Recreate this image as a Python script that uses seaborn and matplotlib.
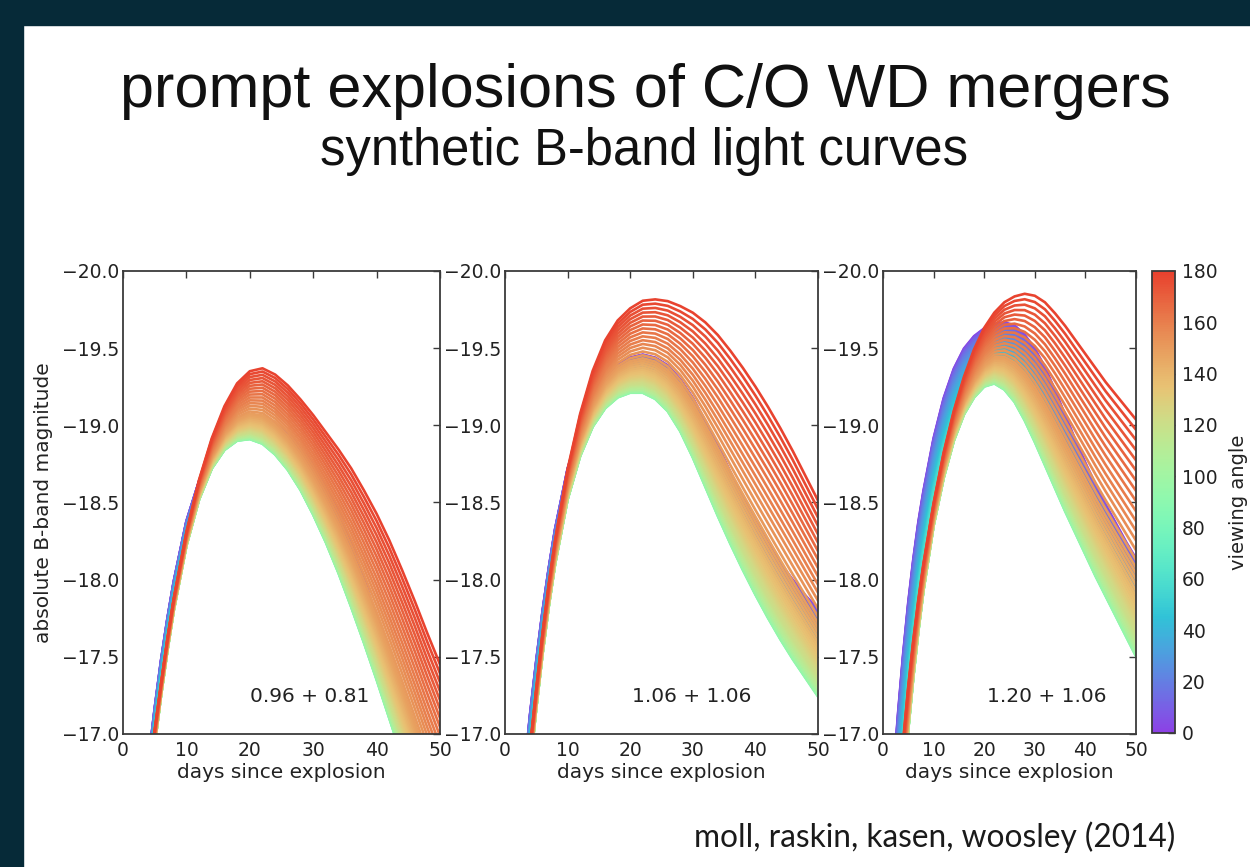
import numpy as np
import pandas as pd
import matplotlib
matplotlib.use("Agg")
import matplotlib.pyplot as plt
import seaborn as sns
from matplotlib.colors import ListedColormap, Normalize
from matplotlib.cm import ScalarMappable
from matplotlib.patches import Rectangle
from matplotlib.ticker import FuncFormatter

# ---------------------------------------------------------------------------
# Light-curve data (absolute B-band magnitude vs. days since explosion)
# Three reference viewing angles per model: 0 deg, 90 deg and 180 deg.
# ---------------------------------------------------------------------------
DAYS = [2, 3, 4, 5, 6, 7, 8, 10, 12, 14, 16, 18, 20, 22, 24, 26, 28, 30,
        32, 34, 36, 38, 40, 42, 44, 46, 48, 50]

# model 0.96 + 0.81 Msun
M1_ANGLE_0 = [-16.00, -16.42, -16.82, -17.17, -17.48, -17.75, -17.99, -18.38,
              -18.64, -18.83, -18.95, -19.01, -19.04, -19.04, -19.01, -18.95,
              -18.86, -18.75, -18.61, -18.44, -18.24, -18.01, -17.76, -17.49,
              -17.21, -16.93, -16.65, -16.37]
M1_ANGLE_90 = [-15.80, -16.20, -16.58, -16.93, -17.25, -17.54, -17.80, -18.22,
               -18.52, -18.72, -18.84, -18.90, -18.91, -18.88, -18.81, -18.71,
               -18.58, -18.42, -18.24, -18.04, -17.82, -17.59, -17.35, -17.10,
               -16.85, -16.60, -16.35, -16.10]
M1_ANGLE_180 = [-15.90, -16.35, -16.72, -17.03, -17.33, -17.62, -17.88, -18.31,
                -18.65, -18.92, -19.13, -19.28, -19.36, -19.38, -19.34, -19.27,
                -19.18, -19.08, -18.97, -18.86, -18.74, -18.60, -18.45, -18.28,
                -18.09, -17.89, -17.68, -17.48]

# model 1.06 + 1.06 Msun
M2_ANGLE_0 = [-16.20, -16.72, -17.13, -17.48, -17.80, -18.08, -18.33, -18.72,
              -18.99, -19.18, -19.31, -19.39, -19.44, -19.46, -19.44, -19.39,
              -19.30, -19.18, -19.03, -18.87, -18.70, -18.53, -18.38, -18.24,
              -18.11, -18.00, -17.90, -17.81]
M2_ANGLE_90 = [-15.90, -16.35, -16.78, -17.17, -17.52, -17.83, -18.10, -18.52,
               -18.80, -18.99, -19.11, -19.18, -19.21, -19.21, -19.17, -19.09,
               -18.96, -18.79, -18.60, -18.41, -18.23, -18.06, -17.90, -17.75,
               -17.61, -17.48, -17.36, -17.24]
M2_ANGLE_180 = [-16.00, -16.50, -16.92, -17.30, -17.66, -17.98, -18.26, -18.72,
                -19.08, -19.36, -19.56, -19.69, -19.77, -19.82, -19.83, -19.82,
                -19.79, -19.75, -19.69, -19.61, -19.51, -19.40, -19.28, -19.15,
                -19.01, -18.86, -18.70, -18.54]

# model 1.20 + 1.06 Msun
M3_ANGLE_0 = [-16.72, -17.15, -17.53, -17.86, -18.14, -18.38, -18.58, -18.92,
              -19.18, -19.37, -19.50, -19.58, -19.63, -19.66, -19.67, -19.65,
              -19.59, -19.50, -19.38, -19.23, -19.07, -18.91, -18.76, -18.62,
              -18.49, -18.37, -18.25, -18.14]
M3_ANGLE_90 = [-15.70, -16.20, -16.64, -17.03, -17.37, -17.67, -17.93, -18.35,
               -18.66, -18.90, -19.07, -19.18, -19.25, -19.27, -19.23, -19.15,
               -19.03, -18.89, -18.74, -18.59, -18.44, -18.30, -18.16, -18.02,
               -17.89, -17.76, -17.63, -17.50]
M3_ANGLE_180 = [-16.10, -16.58, -16.97, -17.32, -17.62, -17.88, -18.11, -18.50,
                -18.83, -19.10, -19.32, -19.50, -19.64, -19.74, -19.81, -19.85,
                -19.87, -19.86, -19.82, -19.75, -19.67, -19.58, -19.49, -19.40,
                -19.31, -19.23, -19.15, -19.07]

MODEL_LABELS = ["0.96 + 0.81", "1.06 + 1.06", "1.20 + 1.06"]

# position of each line between the 90-deg curve (0) and the 0-deg (-1)
# or 180-deg (+1) curve, tabulated against viewing angle
ANGLE_ANCHORS = [0, 10, 20, 30, 40, 50, 60, 70, 80, 90,
                 100, 110, 120, 130, 140, 150, 160, 170, 180]
ANGLE_MIX = [-1.0, -0.95, -0.85, -0.72, -0.58, -0.45, -0.33, -0.20, -0.10, 0.0,
             0.02, 0.05, 0.10, 0.17, 0.26, 0.38, 0.58, 0.79, 1.0]
VIEWING_ANGLES = list(range(1, 180, 2))

CBAR_TICKS = [0, 20, 40, 60, 80, 100, 120, 140, 160, 180]
X_TICKS = [0, 10, 20, 30, 40, 50]
Y_TICKS = [-20.0, -19.5, -19.0, -18.5, -18.0, -17.5, -17.0]

MODELS = [
    (M1_ANGLE_0, M1_ANGLE_90, M1_ANGLE_180),
    (M2_ANGLE_0, M2_ANGLE_90, M2_ANGLE_180),
    (M3_ANGLE_0, M3_ANGLE_90, M3_ANGLE_180),
]


def model_frame(m0, m90, m180):
    m0, m90, m180 = map(np.asarray, (m0, m90, m180))
    rows = []
    for ang in VIEWING_ANGLES:
        mix = np.interp(ang, ANGLE_ANCHORS, ANGLE_MIX)
        if mix >= 0:
            mag = m90 + mix * (m180 - m90)
        else:
            mag = m90 - mix * (m0 - m90)
        rows.append(pd.DataFrame({"day": DAYS, "mag": mag, "angle": float(ang)}))
    return pd.concat(rows, ignore_index=True)


# softened rainbow colour map
base = plt.get_cmap("rainbow")(np.linspace(0, 1, 256))[:, :3]
tint = np.array([0.68, 0.90, 0.64])
soft = 0.72 * base + 0.28 * tint
cmap = ListedColormap(np.clip(soft, 0, 1), name="soft_rainbow")
norm = Normalize(vmin=0, vmax=180)

sns.set_theme(style="white")
plt.rcParams["font.family"] = ["DejaVu Sans"]
plt.rcParams["axes.edgecolor"] = "#3a3a3a"
plt.rcParams["axes.linewidth"] = 1.3

W, H = 1250, 867
fig = plt.figure(figsize=(W / 100, H / 100), dpi=100)
fig.patch.set_facecolor("white")

# slide frame
frame = "#062a38"
fig.patches.append(Rectangle((0, 0), 23 / W, 1, transform=fig.transFigure,
                             color=frame, zorder=-10))
fig.patches.append(Rectangle((0, 1 - 25 / H), 1, 25 / H, transform=fig.transFigure,
                             color=frame, zorder=-10))

fig.text(645 / W, 1 - 107 / H, "prompt explosions of C/O WD mergers",
         ha="center", va="baseline", fontsize=44, family="Liberation Sans",
         color="#111111")
fig.text(644 / W, 1 - 165 / H, "synthetic B-band light curves",
         ha="center", va="baseline", fontsize=36.5, family="Liberation Sans",
         color="#111111")
fig.text(1175 / W, 1 - 847 / H, "moll, raskin, kasen, woosley (2014)",
         ha="right", va="baseline", fontsize=22.8, family="Lato",
         color="#1a1a1a")

panel_px = [(123, 440), (505, 818), (883, 1136)]
label_x = [0.59, 0.596, 0.649]
top_px, bot_px = 271, 734

minus = FuncFormatter(lambda v, p: f"{v:.1f}".replace("-", "\u2212"))

for i, ((x0, x1), (m0, m90, m180)) in enumerate(zip(panel_px, MODELS)):
    ax = fig.add_axes([x0 / W, 1 - bot_px / H, (x1 - x0) / W, (bot_px - top_px) / H])
    df = model_frame(m0, m90, m180)
    # lines are drawn in order of increasing viewing angle
    sns.lineplot(data=df, x="day", y="mag", hue="angle", palette=cmap,
                 hue_norm=norm, estimator=None, legend=False, linewidth=1.9,
                 ax=ax)
    ax.set_xlim(0, 50)
    ax.set_ylim(-17, -20)
    ax.set_xticks(X_TICKS)
    ax.set_yticks(Y_TICKS)
    ax.yaxis.set_major_formatter(minus)
    ax.tick_params(direction="in", top=True, right=True, length=5, width=1,
                   color="#3a3a3a", labelsize=13.5, labelcolor="#222222")
    ax.tick_params(axis="x", pad=5)
    ax.tick_params(axis="y", pad=3)
    ax.set_xlabel("days since explosion", fontsize=14.5, color="#222222",
                  labelpad=2)
    if i == 0:
        ax.set_ylabel("absolute B-band magnitude", fontsize=14.5,
                      color="#222222", labelpad=6)
    else:
        ax.set_ylabel("")
    ax.text(label_x[i], 0.08, MODEL_LABELS[i], transform=ax.transAxes,
            ha="center", va="center", fontsize=14.5, color="#222222")
    for s in ax.spines.values():
        s.set_visible(True)

cax = fig.add_axes([1152 / W, 1 - 733 / H, 23 / W, 462 / H])
sm = ScalarMappable(norm=norm, cmap=cmap)
cb = fig.colorbar(sm, cax=cax, ticks=CBAR_TICKS)
cb.outline.set_edgecolor("#3a3a3a")
cb.outline.set_linewidth(1.3)
cax.tick_params(direction="in", length=5, width=1, color="#3a3a3a",
                labelsize=13.5, labelcolor="#222222", pad=5)
cb.set_label("viewing angle", fontsize=14, color="#222222", labelpad=8)

fig.savefig("out.png", dpi=100, facecolor=fig.get_facecolor())
